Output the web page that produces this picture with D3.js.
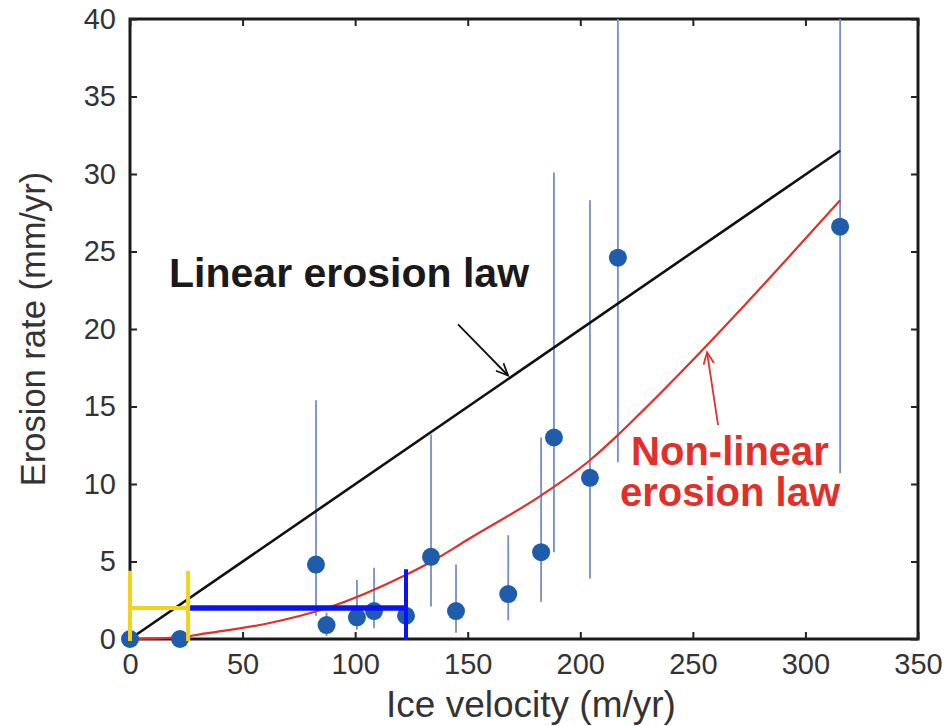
<!DOCTYPE html>
<html>
<head>
<meta charset="utf-8">
<script src="https://cdn.jsdelivr.net/npm/d3@7"></script>
<style>
  html, body { margin: 0; padding: 0; background: #fff; }
  svg { display: block; font-family: "Liberation Sans", Arial, Helvetica, sans-serif; }
</style>
</head>
<body>
<svg id="chart" width="946" height="726"></svg>
<script>
// Measured sites: ice velocity (m/yr) vs erosion rate (mm/yr) with uncertainty ranges
const velocity = [0, 22.2, 82.6, 87.3, 100.8, 108.4, 122.6, 133.7, 144.8, 168.0, 182.6, 188.3, 204.3, 216.7, 315.4];
const erosion  = [0, 0, 4.8, 0.9, 1.4, 1.8, 1.5, 5.3, 1.8, 2.9, 5.6, 13.0, 10.4, 24.6, 26.6];
const errLow   = [null, null, 1.5, 0.2, 0.6, 0.7, null, 2.1, 0.4, 1.2, 2.4, 5.6, 3.9, 11.4, 10.7];
const errHigh  = [null, null, 15.4, 1.7, 3.8, 4.6, null, 13.2, 4.8, 6.7, 13.0, 30.1, 28.3, 40, 40];

// Linear erosion law
const linearX = [0, 315.4];
const linearY = [0, 31.5];

// Non-linear erosion law
const nonlinX = [0, 22, 31, 61, 87.5, 122, 134, 151, 183, 204, 217, 222, 315.4];
const nonlinY = [0, 0.1, 0.3, 1.0, 2.0, 4.1, 5.0, 6.5, 9.3, 11.5, 13.2, 13.9, 28.3];

// Velocity ranges marked along the bottom
const yellowRange = [0, 25.8];
const blueRange   = [25.8, 122.6];
const rangeLevel  = 2.0;
const whiskerTop  = [4.4, 4.5];

const xTicks = [0, 50, 100, 150, 200, 250, 300, 350];
const yTicks = [0, 5, 10, 15, 20, 25, 30, 35, 40];

const svg = d3.select("#chart");
const plotL = 130, plotR = 918, plotT = 19, plotB = 639;

const x = d3.scaleLinear().domain([0, 350]).range([plotL, plotR]);
const y = d3.scaleLinear().domain([0, 40]).range([plotB, plotT]);

const tickColor = "#333";
const tickLen = 7;

// Plot frame
svg.append("rect")
  .attr("x", plotL).attr("y", plotT)
  .attr("width", plotR - plotL).attr("height", plotB - plotT)
  .attr("fill", "none").attr("stroke", "#1a1a1a").attr("stroke-width", 3);

// Axes with inward ticks on all four sides
const axB = d3.axisBottom(x).tickValues(xTicks).tickSizeInner(-tickLen).tickSizeOuter(0).tickPadding(14);
const axT = d3.axisTop(x).tickValues(xTicks).tickSizeInner(-tickLen).tickSizeOuter(0).tickFormat("");
const axL = d3.axisLeft(y).tickValues(yTicks).tickSizeInner(-tickLen).tickSizeOuter(0).tickPadding(14);
const axR = d3.axisRight(y).tickValues(yTicks).tickSizeInner(-tickLen).tickSizeOuter(0).tickFormat("");

function styleAxis(g) {
  g.select(".domain").remove();
  g.selectAll(".tick line").attr("stroke", "#222").attr("stroke-width", 2);
  g.selectAll(".tick text").attr("fill", tickColor).style("font-size", "29px").style("font-family", "'Liberation Sans', Arial, Helvetica, sans-serif");
}

svg.append("g").attr("transform", `translate(0,${plotB})`).call(axB).call(styleAxis);
svg.append("g").attr("transform", `translate(0,${plotT})`).call(axT).call(styleAxis);
svg.append("g").attr("transform", `translate(${plotL},0)`).call(axL).call(styleAxis);
svg.append("g").attr("transform", `translate(${plotR},0)`).call(axR).call(styleAxis);

// Error bars
const pts = velocity.map((v, i) => ({ v, e: erosion[i], lo: errLow[i], hi: errHigh[i] }));
svg.append("g").selectAll("line")
  .data(pts.filter(d => d.lo !== null))
  .join("line")
  .attr("x1", d => x(d.v)).attr("x2", d => x(d.v))
  .attr("y1", d => y(d.lo)).attr("y2", d => y(d.hi))
  .attr("stroke", "#7490c6").attr("stroke-width", 1.8);

// Law curves
const lineGen = d3.line().x(d => x(d[0])).y(d => y(d[1]));
svg.append("path")
  .datum(linearX.map((v, i) => [v, linearY[i]]))
  .attr("d", lineGen).attr("fill", "none").attr("stroke", "#111").attr("stroke-width", 2.6);

svg.append("path")
  .datum(nonlinX.map((v, i) => [v, nonlinY[i]]))
  .attr("d", lineGen.curve(d3.curveMonotoneX)).attr("fill", "none").attr("stroke", "#e0302a").attr("stroke-width", 2.2);

// Data points
svg.append("g").selectAll("circle")
  .data(pts)
  .join("circle")
  .attr("cx", d => x(d.v)).attr("cy", d => y(d.e))
  .attr("r", 9).attr("fill", "#1f5cab");

// Velocity range brackets
const yl = y(rangeLevel);
svg.append("line")
  .attr("x1", x(blueRange[0])).attr("x2", x(blueRange[1]))
  .attr("y1", yl).attr("y2", yl)
  .attr("stroke", "#0a14f0").attr("stroke-width", 5.5);
svg.append("line")
  .attr("x1", x(blueRange[1])).attr("x2", x(blueRange[1]))
  .attr("y1", y(0) + 1).attr("y2", y(whiskerTop[1]))
  .attr("stroke", "#0a14f0").attr("stroke-width", 4);

svg.append("line")
  .attr("x1", x(yellowRange[0])).attr("x2", x(yellowRange[1]))
  .attr("y1", yl).attr("y2", yl)
  .attr("stroke", "#f3d21a").attr("stroke-width", 4);
yellowRange.forEach(v => {
  svg.append("line")
    .attr("x1", x(v)).attr("x2", x(v))
    .attr("y1", y(0) + 2).attr("y2", y(whiskerTop[0]))
    .attr("stroke", "#f3d21a").attr("stroke-width", 4);
});

// Arrow helper: shaft plus open V head, both ends in data units
function arrow(from, to, color, width) {
  const x0 = x(from[0]), y0 = y(from[1]), x1 = x(to[0]), y1 = y(to[1]);
  const ang = Math.atan2(y1 - y0, x1 - x0);
  const hl = 13, ha = 0.42;
  svg.append("line").attr("x1", x0).attr("y1", y0).attr("x2", x1).attr("y2", y1)
    .attr("stroke", color).attr("stroke-width", width);
  const p = [
    [x1 - hl * Math.cos(ang - ha), y1 - hl * Math.sin(ang - ha)],
    [x1, y1],
    [x1 - hl * Math.cos(ang + ha), y1 - hl * Math.sin(ang + ha)]
  ];
  svg.append("path").attr("d", d3.line()(p)).attr("fill", "none")
    .attr("stroke", color).attr("stroke-width", width).attr("stroke-linejoin", "miter");
}
arrow([145.7, 20.3], [167.9, 17.0], "#111", 1.8);
arrow([261.2, 13.8], [256.3, 18.5], "#d9352e", 1.8);

// Annotations
svg.append("text")
  .attr("x", x(97.3)).attr("y", y(22.7))
  .attr("text-anchor", "middle")
  .attr("font-weight", "bold").attr("font-size", 41).attr("fill", "#1a1a1a")
  .text("Linear erosion law");

const nlSize = 40;
svg.append("text")
  .attr("x", x(266.5)).attr("y", y(11.25))
  .attr("text-anchor", "middle")
  .attr("font-weight", "bold").attr("font-size", nlSize).attr("fill", "#e0302a")
  .text("Non-linear");
svg.append("text")
  .attr("x", x(266.5)).attr("y", y(8.6))
  .attr("text-anchor", "middle")
  .attr("font-weight", "bold").attr("font-size", nlSize).attr("fill", "#e0302a")
  .text("erosion law");

// Axis titles
svg.append("text")
  .attr("x", (plotL + plotR) / 2 + 7).attr("y", 717)
  .attr("text-anchor", "middle").attr("font-size", 37).attr("fill", tickColor)
  .text("Ice velocity (m/yr)");

svg.append("text")
  .attr("transform", `translate(45,${(plotT + plotB) / 2}) rotate(-90)`)
  .attr("text-anchor", "middle").attr("font-size", 34.5).attr("fill", tickColor)
  .text("Erosion rate (mm/yr)");
</script>
</body>
</html>
